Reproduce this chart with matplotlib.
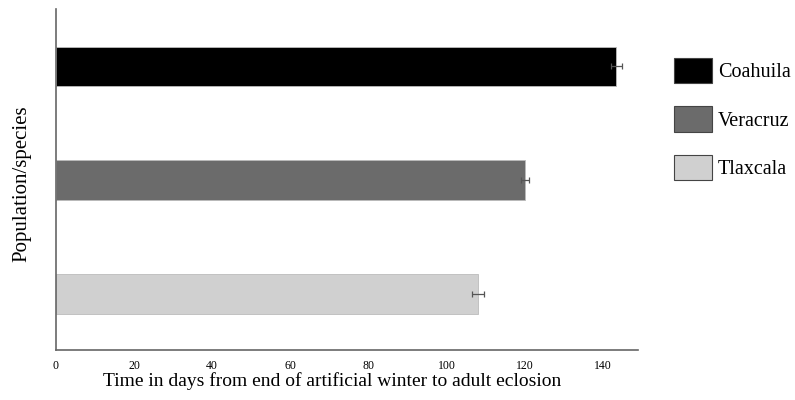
import matplotlib
matplotlib.use("Agg")
import matplotlib.pyplot as plt

plt.rcParams["font.family"] = ["Liberation Serif", "DejaVu Serif"]

populations = ["Tlaxcala", "Veracruz", "Coahuila"]
days = [108, 120, 143.5]
errs = [1.5, 1.0, 1.5]
colors = ["#d0d0d0", "#6b6b6b", "#000000"]
xticks = [0, 20, 40, 60, 80, 100, 120, 140]

fig = plt.figure(figsize=(7.95, 4.0), dpi=100)
ax = fig.add_axes([0.0704, 0.125, 0.732, 0.8525])

ax.barh(range(3), days, height=0.35, color=colors, edgecolor="#bbbbbb", lw=0.6,
        xerr=errs, error_kw=dict(ecolor="#555555", elinewidth=0.9, capsize=2, capthick=0.9))

ax.set_xlim(0, 149)
ax.set_ylim(-0.49, 2.505)
ax.set_xticks(xticks)
ax.set_xticklabels([str(t) for t in xticks], fontsize=8.5)
ax.tick_params(axis="x", length=0, pad=7)
ax.set_yticks([])
ax.spines[["top", "right"]].set_visible(False)
for s in ["left", "bottom"]:
    ax.spines[s].set_color("#666666")
    ax.spines[s].set_linewidth(1.2)

ax.set_xlabel("Time in days from end of artificial winter to adult eclosion", fontsize=14)
ax.xaxis.set_label_coords(0.475, -0.065)
ax.set_ylabel("Population/species", fontsize=15)
ax.yaxis.set_label_coords(-0.042, 0.487)

handles = [plt.Rectangle((0, 0), 1, 1, facecolor=c, edgecolor="#444444", lw=0.8) for c in colors[::-1]]
fig.legend(handles, populations[::-1], loc="upper left", bbox_to_anchor=(0.8478, 0.855),
           frameon=False, fontsize=14.5, handlelength=1.89, handleheight=1.55,
           labelspacing=1.15, handletextpad=0.3, borderpad=0, borderaxespad=0)

fig.savefig("out.png", facecolor="white")
